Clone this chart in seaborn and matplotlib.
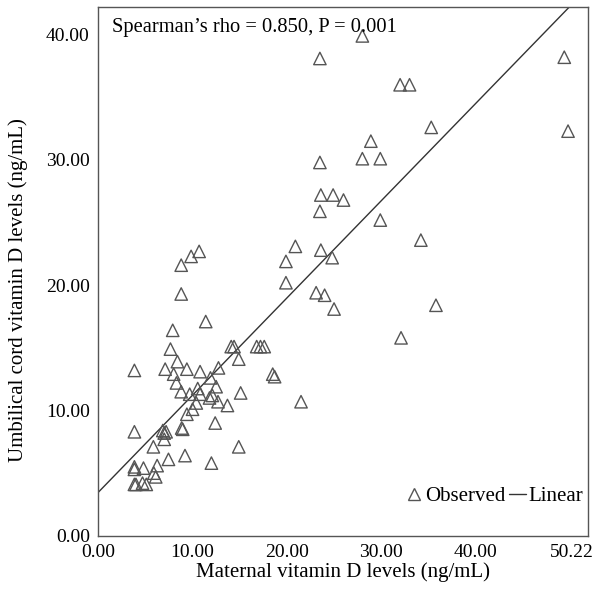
import numpy as np
import pandas as pd
import seaborn as sns
from matplotlib import pyplot as plt
from matplotlib.lines import Line2D

# maternal vs cord vitamin D values
maternal = [28.0, 23.5, 49.4, 49.8, 32.0, 33.0, 35.3, 28.9, 28.0, 29.9,
            23.5, 23.6, 24.9, 26.0, 23.5, 29.9, 20.9, 23.6, 34.2, 24.8,
            19.9, 10.7, 9.85, 8.8, 19.9, 8.8, 23.1, 24.0, 25.0, 11.4,
            7.9, 7.66, 14.1, 14.4, 16.8, 17.2, 17.6, 14.9, 3.84, 7.1,
            8.4, 9.4, 10.8, 8.0, 12.75, 11.9, 18.5, 18.7, 8.3, 12.5,
            8.8, 10.55, 9.7, 10.8, 15.1, 11.8, 12.1, 12.7, 13.7, 10.4,
            10.0, 21.5, 9.4, 12.4, 3.84, 6.85, 7.2, 7.0, 8.85, 8.96,
            7.0, 5.85, 14.9, 9.2, 7.45, 12.0, 6.25, 3.84, 3.84, 4.8,
            5.9, 6.1, 3.84, 4.0, 5.1, 4.7, 35.8, 32.1]
cord = [39.9, 38.1, 38.2, 32.3, 36.0, 36.0, 32.6, 31.5, 30.1, 30.1,
        29.8, 27.2, 27.2, 26.8, 25.9, 25.2, 23.1, 22.8, 23.6, 22.2,
        21.9, 22.7, 22.3, 21.6, 20.2, 19.3, 19.4, 19.2, 18.1, 17.1,
        16.4, 14.9, 15.1, 15.1, 15.1, 15.1, 15.1, 14.1, 13.2, 13.3,
        13.9, 13.3, 13.1, 12.9, 13.4, 12.6, 12.9, 12.7, 12.2, 11.9,
        11.5, 11.75, 11.3, 11.3, 11.4, 11.0, 11.2, 10.7, 10.4, 10.6,
        10.1, 10.7, 9.7, 9.0, 8.3, 8.4, 8.3, 8.2, 8.6, 8.5,
        7.7, 7.1, 7.1, 6.4, 6.1, 5.8, 5.6, 5.5, 5.3, 5.4,
        5.0, 4.7, 4.1, 4.1, 4.1, 4.2, 18.4, 15.8]

# linear fit as shown in the figure
fit_intercept = 3.46
fit_slope = 0.776

xticks = [0, 10, 20, 30, 40, 50.22]
yticks = [0, 10, 20, 30, 40]
stat_text = "Spearman\u2019s rho = 0.850, P = 0.001"

df = pd.DataFrame({'maternal': maternal, 'cord': cord})

sns.set_style('white')
plt.rcParams['font.family'] = ['Liberation Serif', 'DejaVu Serif']

fig = plt.figure(figsize=(5.95, 5.92), dpi=100)
ax = fig.add_axes([0.165, 0.095, 0.823, 0.893])

xlim = (0, 51.9)
fit_x = np.array(xlim)
fit_df = pd.DataFrame({'x': fit_x, 'y': fit_intercept + fit_slope * fit_x})
sns.lineplot(data=fit_df, x='x', y='y', color='#333333', linewidth=1.0, ax=ax)
sns.scatterplot(data=df, x='maternal', y='cord', marker='^', s=80,
                facecolors='none', edgecolor='#555555', linewidth=1.0, ax=ax,
                zorder=3)

ax.set_xlim(*xlim)
ax.set_ylim(0, 42.2)
ax.set_xticks(xticks)
ax.set_xticklabels(['%.2f' % t for t in xticks], fontsize=14)
ax.set_yticks(yticks)
ax.set_yticklabels(['%.2f' % t for t in yticks], fontsize=14)
ax.tick_params(direction='out', length=4, color='#555555', width=1,
               labelcolor='black', pad=2)
ax.set_xlabel('Maternal vitamin D levels (ng/mL)', fontsize=15, labelpad=1,
              color='black')
ax.set_ylabel('Umbilical cord vitamin D levels (ng/mL)', fontsize=15,
              color='black')
ax.yaxis.set_label_coords(-0.143, 0.465)
for sp in ax.spines.values():
    sp.set_color('#555555')
    sp.set_linewidth(1.0)

ax.text(0.028, 0.98, stat_text, transform=ax.transAxes, fontsize=14.8,
        va='top', ha='left', color='black')

handles = [Line2D([], [], marker='^', linestyle='none', markerfacecolor='none',
                  markeredgecolor='#555555', markersize=8),
           Line2D([], [], color='#333333', linewidth=1.0)]
leg = ax.legend(handles, ['Observed', 'Linear'], loc='center left', ncol=2,
                frameon=False, fontsize=15, handlelength=0.8, handletextpad=0.12,
                columnspacing=0.2, borderpad=0, borderaxespad=0,
                bbox_to_anchor=(0.628, 0.074))
for t in leg.get_texts():
    t.set_color('black')

fig.savefig('out.png', dpi=100)
